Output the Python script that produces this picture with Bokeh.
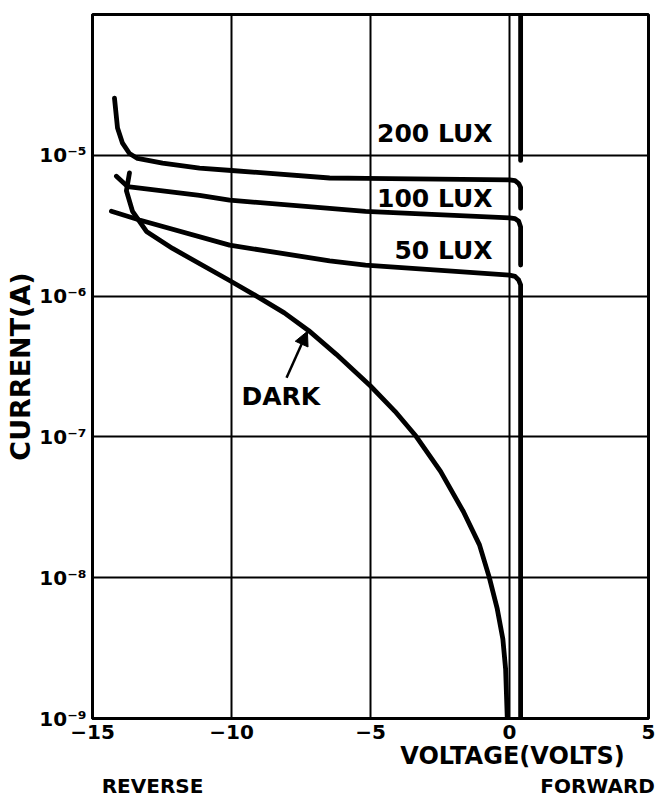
from bokeh.plotting import figure
from bokeh.models import FixedTicker, CustomJSTickFormatter, Label, Arrow, NormalHead, LinearAxis
from bokeh.embed import file_html
from bokeh.resources import INLINE
import json

# ---------------- data ----------------
x_ticks = [-15, -10, -5, 0, 5]
y_tick_exps = [-9, -8, -7, -6, -5]
y_tick_labels = ["10\u207b\u2079", "10\u207b\u2078", "10\u207b\u2077", "10\u207b\u2076", "10\u207b\u2075"]

dark_v = [-13.67, -13.78, -13.56, -13.06, -12.12, -10.07, -9.10, -8.10, -7.22, -6.23, -5.00,
          -4.12, -3.36, -2.48, -1.66, -1.08, -0.73, -0.44, -0.24, -0.14, -0.08]
dark_i = [7.5e-6, 5.6e-6, 4.0e-6, 2.88e-6, 2.18e-6, 1.29e-6, 1.0e-6, 7.6e-7, 5.68e-7, 3.86e-7, 2.30e-7,
          1.52e-7, 1.01e-7, 5.69e-8, 2.95e-8, 1.71e-8, 1.01e-8, 6.0e-9, 3.68e-9, 2.25e-9, 1.0e-9]

lux200_v = [-14.21, -14.10, -13.92, -13.67, -13.38, -12.48, -11.15, -10.0, -6.47, -5.15,
            0.0, 0.20, 0.33, 0.40, 0.40]
lux200_i = [2.55e-5, 1.56e-5, 1.22e-5, 1.03e-5, 9.5e-6, 8.8e-6, 8.1e-6, 7.8e-6, 6.9e-6, 6.85e-6,
            6.7e-6, 6.6e-6, 6.3e-6, 5.9e-6, 4.2e-6]

lux100_v = [-14.14, -13.74, -11.15, -10.07, -6.47, -5.18, 0.0, 0.20, 0.33, 0.40, 0.40]
lux100_i = [7.1e-6, 6.0e-6, 5.2e-6, 4.8e-6, 4.2e-6, 4.0e-6, 3.6e-6, 3.55e-6, 3.4e-6, 3.1e-6, 1.66e-6]

lux50_v = [-14.32, -13.31, -10.07, -6.47, -5.18, 0.0, 0.20, 0.33, 0.40, 0.40]
lux50_i = [4.0e-6, 3.47e-6, 2.3e-6, 1.78e-6, 1.66e-6, 1.41e-6, 1.38e-6, 1.3e-6, 1.2e-6, 1.0e-9]

forward_v = [0.40, 0.40]
forward_i = [1.0e-4, 9.2e-6]

curve_labels = ["200 LUX", "100 LUX", "50 LUX"]
direction_labels = ["REVERSE", "FORWARD"]

# ---------------- figure ----------------
FONT = "DejaVu Sans"
p = figure(width=658, height=802, x_range=(-15, 5), y_range=(1e-9, 1e-4),
           y_axis_type="log", output_backend="svg", toolbar_location=None,
           min_border_left=92, min_border_right=10, min_border_top=14, min_border_bottom=84,
           background_fill_color="white", border_fill_color="white")

p.outline_line_color = "black"
p.outline_line_width = 3
p.outline_line_alpha = 1

for ax in (p.xaxis[0], p.yaxis[0]):
    ax.axis_line_color = "black"
    ax.axis_line_width = 3
    ax.major_tick_line_color = None
    ax.minor_tick_line_color = None
    ax.major_tick_out = 0
    ax.major_tick_in = 0
    ax.major_label_text_font = FONT
    ax.major_label_text_font_style = "bold"
    ax.major_label_text_color = "black"
    ax.major_label_text_font_size = "20px"

p.xaxis.major_label_standoff = 6
p.yaxis.major_label_standoff = 6

p.xaxis.ticker = FixedTicker(ticks=x_ticks)
p.yaxis.ticker = FixedTicker(ticks=[10.0 ** e for e in y_tick_exps])
p.yaxis.formatter = CustomJSTickFormatter(code="""
const exps_ = %s;
const labels_ = %s;
const e = Math.round(Math.log10(tick));
const k = exps_.indexOf(e);
return k >= 0 ? labels_[k] : "";
""" % (json.dumps(y_tick_exps), json.dumps(y_tick_labels)))

p.yaxis.axis_label = "CURRENT(A)"
p.yaxis.axis_label_text_font = FONT
p.yaxis.axis_label_text_font_style = "bold"
p.yaxis.axis_label_text_font_size = "27px"
p.yaxis.axis_label_text_color = "black"
p.yaxis.axis_label_standoff = 0


def text_axis(positions, labels, size, standoff):
    ax = LinearAxis(ticker=FixedTicker(ticks=positions),
                    formatter=CustomJSTickFormatter(code="""
const pos_ = %s;
const labels_ = %s;
let best = 0;
for (let i = 0; i < pos_.length; i++) {
  if (Math.abs(pos_[i] - tick) < Math.abs(pos_[best] - tick)) best = i;
}
return labels_[best];
""" % (json.dumps(positions), json.dumps(labels))))
    ax.axis_line_color = None
    ax.major_tick_line_color = None
    ax.minor_tick_line_color = None
    ax.major_tick_out = 0
    ax.major_tick_in = 0
    ax.major_label_standoff = standoff
    ax.major_label_text_font = FONT
    ax.major_label_text_font_style = "bold"
    ax.major_label_text_font_size = size
    ax.major_label_text_color = "black"
    return ax


# x-axis title (centred near 0 V, as in the reference) and REVERSE / FORWARD captions
p.add_layout(text_axis([0.108], ["VOLTAGE(VOLTS)"], "24px", 0), "below")
p.add_layout(text_axis([-12.84, 3.17], direction_labels, "20px", 1), "below")

p.xgrid.ticker = FixedTicker(ticks=x_ticks)
p.ygrid.ticker = FixedTicker(ticks=[10.0 ** e for e in y_tick_exps])
for g in (p.xgrid[0], p.ygrid[0]):
    g.grid_line_color = "black"
    g.grid_line_width = 2
    g.grid_line_alpha = 1

LW = 4.8
for xs, ys in ((dark_v, dark_i), (lux200_v, lux200_i), (lux100_v, lux100_i),
               (lux50_v, lux50_i), (forward_v, forward_i)):
    p.line(xs, ys, line_color="black", line_width=LW, line_join="round", line_cap="round")

# curve labels
label_y = [1.44e-5, 4.94e-6, 2.11e-6]
for txt, yy in zip(curve_labels, label_y):
    p.add_layout(Label(x=-0.61, y=yy, text=txt, text_align="right", text_baseline="middle",
                       text_font=FONT, text_font_style="bold", text_font_size="25px",
                       text_color="black"))

p.add_layout(Label(x=-9.64, y=1.93e-7, text="DARK", text_align="left", text_baseline="middle",
                   text_font=FONT, text_font_style="bold", text_font_size="25px",
                   text_color="black"))
p.add_layout(Arrow(end=NormalHead(size=14, fill_color="black", line_color="black"),
                   x_start=-8.02, y_start=2.63e-7, x_end=-7.27, y_end=5.62e-7,
                   line_color="black", line_width=2.5))

open("out.html", "w", encoding="utf-8").write(file_html(p, INLINE))
